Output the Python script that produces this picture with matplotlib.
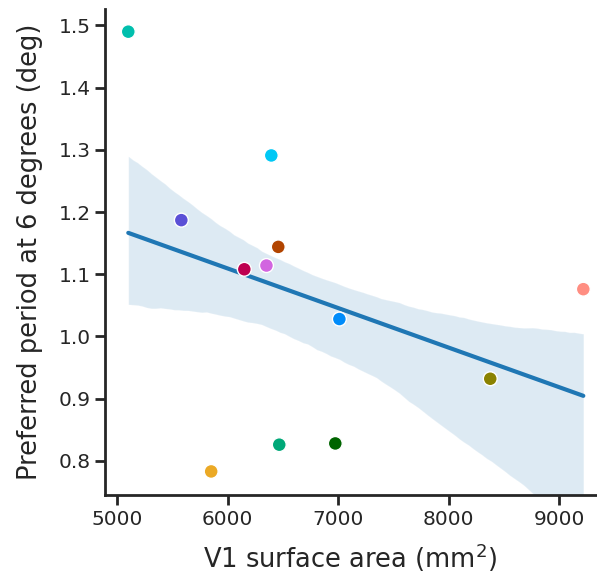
import numpy as np
import pandas as pd
import matplotlib
matplotlib.use("Agg")
import matplotlib.pyplot as plt
import seaborn as sns

## data
area = [5100, 5580, 6394, 6457, 6150, 6350, 7010, 9217, 8375, 6466, 6973, 5850]
period = [1.490, 1.187, 1.291, 1.144, 1.108, 1.114, 1.028, 1.076, 0.932, 0.826, 0.828, 0.783]
colors = ["#00BFAD", "#5B50D6", "#00C8F5", "#B24400", "#BE0050", "#D265E0",
          "#008CFA", "#FF8E82", "#8A8200", "#00A878", "#006400", "#EBA925"]

df = pd.DataFrame({"area": area, "period": period})

sns.set_theme(style="ticks")
plt.rcParams['font.family'] = ['DejaVu Sans']

fig, ax = plt.subplots(figsize=(5.97, 5.77), dpi=100)

sns.regplot(data=df, x="area", y="period", scatter=False, ax=ax, ci=68, seed=1,
            color="#1f77b4", line_kws={"linewidth": 3})
ax.scatter(area, period, c=colors, s=100, edgecolors="white", linewidths=1, zorder=3)

ax.set_xlim(4890, 9330)
ax.set_ylim(0.745, 1.527)
ax.set_xticks([5000, 6000, 7000, 8000, 9000])
ax.set_yticks([0.8, 0.9, 1.0, 1.1, 1.2, 1.3, 1.4, 1.5])
ax.set_xlabel("V1 surface area (mm$^2$)", fontsize=18.5, color="#262626", labelpad=9)
ax.set_ylabel("Preferred period at 6 degrees (deg)", fontsize=18.5, color="#262626", labelpad=11)
ax.tick_params(labelsize=14.5, width=2, length=7, colors="#262626")
for s in ["left", "bottom"]:
    ax.spines[s].set_linewidth(2)
    ax.spines[s].set_color("#262626")
sns.despine(ax=ax)

fig.subplots_adjust(left=0.176, right=0.998, top=0.985, bottom=0.142)
fig.savefig("out.png", dpi=100)
